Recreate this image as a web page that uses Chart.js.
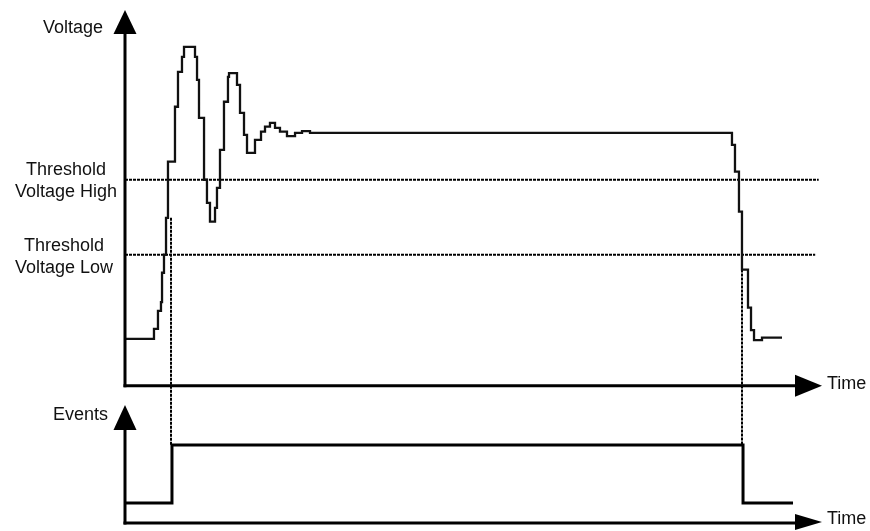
<!DOCTYPE html>
<html><head><meta charset="utf-8">
<script src="https://cdn.jsdelivr.net/npm/chart.js@4.4.0/dist/chart.umd.min.js"></script>
<style>
html,body{margin:0;padding:0;background:#fff;}
#wrap{position:relative;width:870px;height:531px;overflow:hidden;background:#fff;}
canvas{position:absolute;left:0;top:0;}
.lbl{position:absolute;font-family:"Liberation Sans",Arial,sans-serif;font-size:18px;line-height:20px;color:#111;white-space:nowrap;}
.ctr{text-align:center;line-height:22px;}
</style></head><body>
<div id="wrap">
<canvas id="c" width="870" height="531"></canvas>
<div class="lbl" style="left:0;width:103px;text-align:right;top:17px">Voltage</div>
<div class="lbl ctr" style="left:0;width:132px;top:158px">Threshold<br>Voltage High</div>
<div class="lbl ctr" style="left:0;width:128px;top:234px">Threshold<br>Voltage Low</div>
<div class="lbl" style="left:0;width:108px;text-align:right;top:404px">Events</div>
<div class="lbl" style="left:827px;top:373px">Time</div>
<div class="lbl" style="left:827px;top:508px">Time</div>
</div>
<script>
// ---- data (time in arbitrary units, voltage in V, event level 0/1) ----
const waveTime = [0, 4.14, 4.71, 5.14, 5.29, 5.57, 5.86, 6.14, 7.14, 7.57, 8.14, 8.43, 10.0, 10.29, 10.57, 11.29, 11.71, 12.14, 12.86, 13.14, 13.57, 14.14, 14.71, 14.86, 16.0, 16.43, 17.0, 17.43, 18.57, 19.43, 20.0, 20.71, 21.43, 22.14, 23.14, 24.29, 25.29, 26.43, 86.71, 87.14, 87.71, 88.14, 89.0, 89.43, 89.86, 91.0, 93.86];
const waveVolt = [0.00, 0.16, 0.45, 0.59, 1.06, 1.35, 1.94, 2.84, 3.72, 4.28, 4.52, 4.68, 4.52, 4.15, 3.54, 2.55, 2.18, 1.88, 2.10, 2.42, 3.03, 3.80, 4.20, 4.26, 4.07, 3.62, 3.27, 2.98, 3.19, 3.32, 3.40, 3.46, 3.38, 3.32, 3.25, 3.30, 3.33, 3.30, 3.11, 2.68, 2.04, 1.11, 0.50, 0.14, -0.02, 0.02, 0.02];
const thresholdHigh = 2.55;
const thresholdLow = 1.35;
const thresholdHighEnd = 99.1;
const thresholdLowEnd = 98.6;
const eventTime = [0, 6.71, 88.29, 95.43];
const eventLevel = [0, 1, 0, 0];
const crossTime = [6.71, 88.29];
const crossVolt = [1.94, 1.11];
const timeAxisVolt = -0.75;   // where the voltage panel's time axis sits
const eventAxisTop = 1.69;    // top of the events axis arrow

const wave = waveTime.map((t, i) => ({x: t, y: waveVolt[i]}));
const events = eventTime.map((t, i) => ({x: t, y: eventLevel[i]}));

const axesPlugin = {
  id: 'axes',
  beforeDatasetsDraw(chart) {
    const {ctx, scales: {x, y, yE}} = chart;
    ctx.save();
    ctx.strokeStyle = '#000';
    ctx.lineWidth = 2;
    ctx.setLineDash([3, 1]);
    crossTime.forEach((t, i) => {
      const px = Math.round(x.getPixelForValue(t)) - 1;
      ctx.beginPath();
      ctx.moveTo(px, y.getPixelForValue(crossVolt[i]));
      ctx.lineTo(px, yE.getPixelForValue(1));
      ctx.stroke();
    });
    ctx.restore();
  },
  afterDatasetsDraw(chart) {
    const {ctx, chartArea, scales: {x, y, yE}} = chart;
    const x0 = x.getPixelForValue(0);
    const yT = y.getPixelForValue(timeAxisVolt);
    const yB = yE.getPixelForValue(yE.min);
    const tipE = yE.getPixelForValue(eventAxisTop);
    const xEnd = chartArea.right - 3;
    ctx.save();
    ctx.strokeStyle = '#000';
    ctx.fillStyle = '#000';
    ctx.lineWidth = 3;
    ctx.setLineDash([]);
    const line = (a, b, c, d) => { ctx.beginPath(); ctx.moveTo(a, b); ctx.lineTo(c, d); ctx.stroke(); };
    const tri = (a, b, c, d, e, f) => { ctx.beginPath(); ctx.moveTo(a, b); ctx.lineTo(c, d); ctx.lineTo(e, f); ctx.closePath(); ctx.fill(); };
    // voltage axis
    line(x0, yT + 1.5, x0, chartArea.top + 22);
    tri(x0, chartArea.top, x0 - 11.5, chartArea.top + 24, x0 + 11.5, chartArea.top + 24);
    // upper time axis
    line(x0 - 1.5, yT, xEnd - 25, yT);
    tri(xEnd, yT, xEnd - 27, yT - 11, xEnd - 27, yT + 11);
    // events axis
    line(x0, yB + 1.5, x0, tipE + 22);
    tri(x0, tipE, x0 - 11.5, tipE + 25, x0 + 11.5, tipE + 25);
    // lower time axis
    line(x0 - 1.5, yB, xEnd - 25, yB);
    tri(xEnd, yB - 1, xEnd - 27, yB - 9, xEnd - 27, yB + 7);
    ctx.restore();
  }
};

new Chart(document.getElementById('c'), {
  type: 'line',
  data: {
    datasets: [
      {data: wave, yAxisID: 'y', borderColor: '#111', borderWidth: 2.3, stepped: true, pointRadius: 0, fill: false},
      {data: [{x: 0, y: thresholdHigh}, {x: thresholdHighEnd, y: thresholdHigh}], yAxisID: 'y', borderColor: '#000', borderWidth: 2, borderDash: [3, 1], pointRadius: 0},
      {data: [{x: 0, y: thresholdLow}, {x: thresholdLowEnd, y: thresholdLow}], yAxisID: 'y', borderColor: '#000', borderWidth: 2, borderDash: [3, 1], pointRadius: 0},
      {data: events, yAxisID: 'yE', borderColor: '#000', borderWidth: 3, stepped: true, pointRadius: 0, fill: false}
    ]
  },
  options: {
    responsive: false,
    animation: false,
    devicePixelRatio: 1,
    layout: {padding: {left: 125, right: 45, top: 10, bottom: 8}},
    plugins: {legend: {display: false}, tooltip: {enabled: false}},
    scales: {
      x: {type: 'linear', min: 0, max: 100, display: false},
      y: {min: -2.95, max: 5.27, display: false},
      yE: {min: -0.345, max: 8.5, display: false}
    }
  },
  plugins: [axesPlugin]
});
</script>
</body></html>
